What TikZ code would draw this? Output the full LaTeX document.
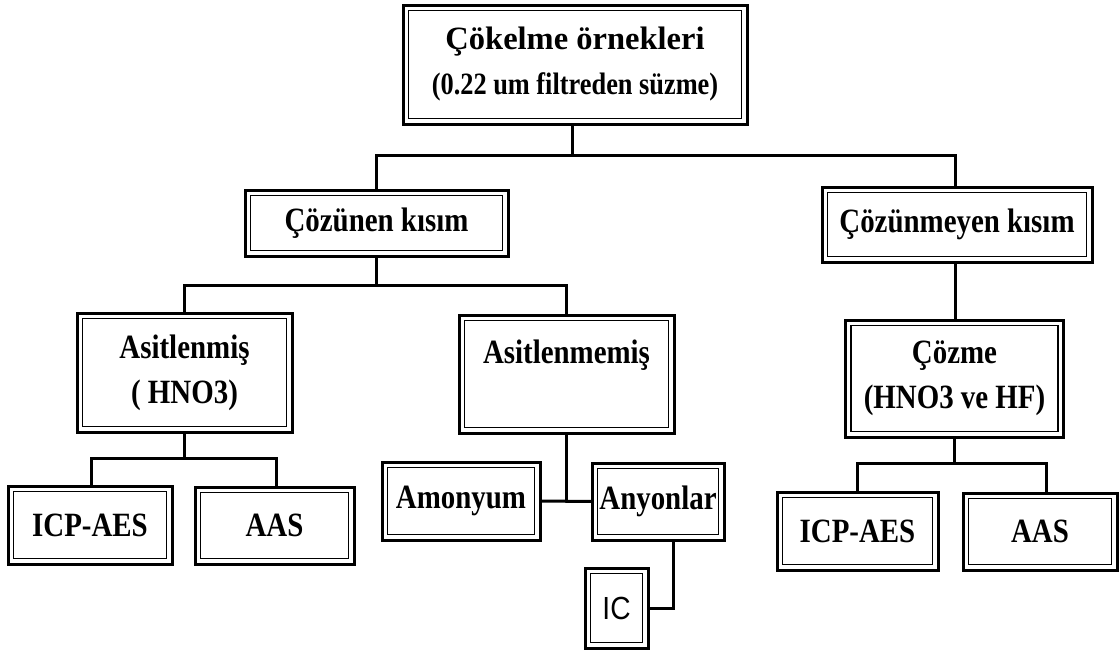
\documentclass[tikz,border=0pt]{standalone}
\usepackage{graphicx}
\usepackage{fontspec}
\setmainfont{Liberation Serif}[FakeStretch=0.85]
\newfontfamily\widefont{Liberation Serif}
\newfontfamily\icfont{Liberation Sans}
\begin{document}
\begin{tikzpicture}[x=1pt,y=-1pt,
  box/.style={draw, line width=3pt, inner sep=0pt, outer sep=0pt, align=center,
    font=\bfseries\fontsize{34}{45}\selectfont},
  innerbox/.style={line width=1.3pt},
  conn/.style={line width=3pt, line join=miter}]
\useasboundingbox (0,0) rectangle (1119,653);

\node[box, minimum width=344pt, minimum height=119pt] (top) at (575,64.5)
  {{\widefont\bfseries\fontsize{32.5}{45}\selectfont Çökelme örnekleri}\\{\fontsize{31}{45}\selectfont (0.22 um filtreden süzme)}};
\node[box, minimum width=263pt, minimum height=66pt] (czn) at (376.5,223) {Çözünen kısım};
\node[box, minimum width=270pt, minimum height=75pt] (czm) at (957,224.5) {Çözünmeyen kısım};
\node[box, minimum width=215pt, minimum height=119pt] (asl) at (184.5,372.5) {Asitlenmiş\\( HNO3)};
\node[box, minimum width=215pt, minimum height=118pt] (asm) at (566.5,374) {Asitlenmemiş\\\phantom{X}};
\node[box, minimum width=218pt, minimum height=117pt] (coz) at (954.5,378.5) {Çözme\\(HNO3 ve HF)};
\node[box, minimum width=164pt, minimum height=78pt] (icpL) at (90,525) {ICP-AES};
\node[box, minimum width=159pt, minimum height=77pt] (aasL) at (274.5,525.5) {AAS};
\node[box, minimum width=158pt, minimum height=78pt] (amo) at (461,501) {Amonyum};
\node[box, minimum width=132pt, minimum height=77pt] (any) at (658,501.5) {Anyonlar};
\node[box, minimum width=63pt, minimum height=80pt,
  font=\icfont\fontsize{32}{36}\selectfont] (ic) at (616.5,608) {\scalebox{0.88}[1]{IC}};
\node[box, minimum width=161pt, minimum height=78pt] (icpR) at (857.5,531) {ICP-AES};
\node[box, minimum width=154pt, minimum height=77pt] (aasR) at (1040,531.5) {AAS};

\foreach \n in {top,czn,czm,asl,asm,coz,icpL,aasL,amo,any,ic,icpR,aasR}
  \draw[innerbox] ([xshift=5.5pt,yshift=5.5pt]\n.south west) rectangle ([xshift=-5.5pt,yshift=-5.5pt]\n.north east);

% connectors
\draw[conn] ([xshift=-3pt]top.south) -- ++(0,31) coordinate (b1) -| (czn.north);
\draw[conn] (b1) -| ([xshift=-2pt]czm.north);
\draw[conn] (czn.south) -- ++(0,29) coordinate (b2) -| (asl.north);
\draw[conn] (b2) -| (asm.north);
\draw[conn] (asl.south) -- ++(0,26) coordinate (b3) -| ([xshift=1pt]icpL.north);
\draw[conn] (b3) -| ([xshift=1.5pt]aasL.north);
\draw[conn] (asm.south) -- (asm.south |- amo.east);
\draw[conn] (amo.east) -- (any.west);
\draw[conn] ([xshift=15pt]any.south) |- (ic.east);
\draw[conn] ([xshift=-1.5pt]czm.south) -- ([xshift=-1.5pt]czm.south |- coz.north);
\draw[conn] (coz.south) -- ++(0,26) coordinate (b4) -| (icpR.north);
\draw[conn] (b4) -| ([xshift=6pt]aasR.north);
\end{tikzpicture}
\end{document}
